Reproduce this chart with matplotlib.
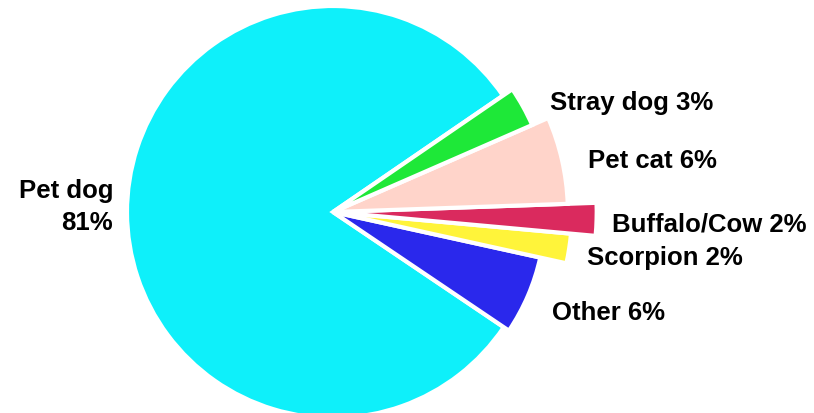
import matplotlib.pyplot as plt

# Bite sources, listed counter-clockwise starting with the large slice
labels = ["Pet dog", "Other", "Scorpion", "Buffalo/Cow", "Pet cat", "Stray dog"]
shares = [81, 6, 2, 2, 6, 3]
colors = ["#0EF0FA", "#2A28EC", "#FFF43A", "#DA2A5E", "#FFD4CA", "#1EE838"]
# how far each slice reaches out, relative to the main radius
reach = [1.0, 1.03, 1.16, 1.28, 1.14, 1.055]

W, H = 814, 413
R = 206            # main radius in pixels
cx, cy = 333, 212  # pie centre in pixels (from top-left)

fig = plt.figure(figsize=(W / 100, H / 100), dpi=100)
ax = fig.add_axes([0, 0, 1, 1])

wedges, _ = ax.pie(shares, colors=colors, startangle=34.4, counterclock=True,
                   radius=1.0,
                   wedgeprops=dict(edgecolor="white", linewidth=3))
for w, k in zip(wedges, reach):
    w.set_radius(k)

ax.set_xlim(-cx / R, (W - cx) / R)
ax.set_ylim(-(H - cy) / R, cy / R)
ax.set_aspect("auto")
ax.axis("off")

font = dict(family="Liberation Sans", weight="bold", size=18.5, color="black")

def put(x, y, s, ha="left"):
    fig.text(x / W, 1 - y / H, s, ha=ha, va="baseline", **font)

# label anchors (left edge / baseline, pixels)
anchors = {
    "Other": (552, 320),
    "Scorpion": (587, 265),
    "Buffalo/Cow": (612, 232),
    "Pet cat": (588, 168),
    "Stray dog": (550, 110),
}
for lab, val in zip(labels, shares):
    if lab == "Pet dog":
        put(113, 198, lab, ha="right")
        put(113, 230, f"{val}%", ha="right")
    else:
        x, y = anchors[lab]
        put(x, y, f"{lab} {val}%")

fig.savefig("out.png", dpi=100)
